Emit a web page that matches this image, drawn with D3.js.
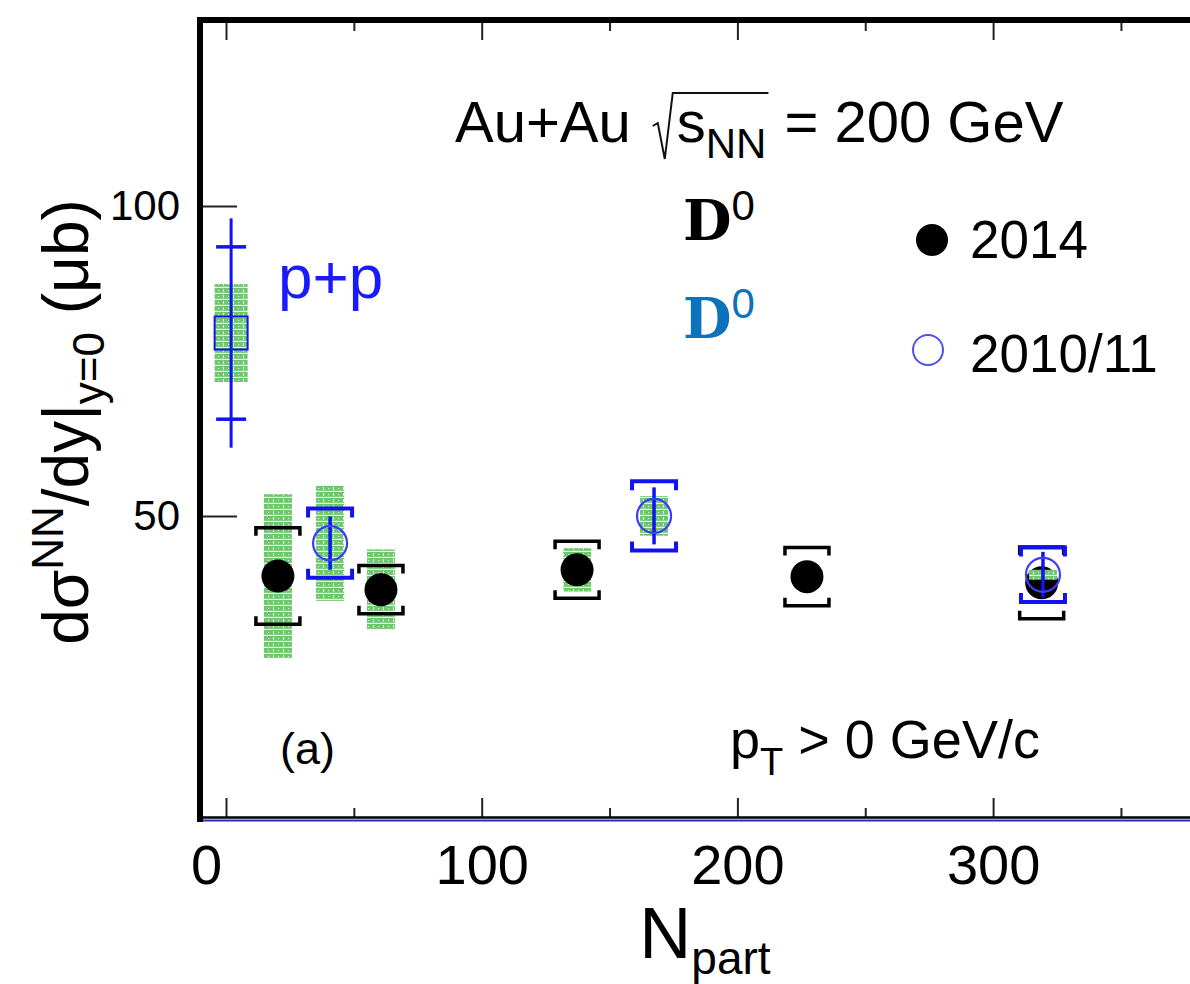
<!DOCTYPE html>
<html>
<head>
<meta charset="utf-8">
<script src="https://cdn.jsdelivr.net/npm/d3@7"></script>
<style>
  html, body { margin: 0; padding: 0; background: #fff; }
  svg { display: block; font-family: "Liberation Sans", Arial, Helvetica, sans-serif; }
</style>
</head>
<body>
<svg id="chart" width="1190" height="984"></svg>
<script>
// Au+Au 200 GeV, D0 from the 2014 run
const npart2014 = [20.3, 60.6, 137.3, 227.2, 319.0];
const value2014 = [40.3, 38.1, 41.3, 40.2, 39.2];
const sys2014   = [7.8, 3.9, 4.6, 4.7, 5.8];
const band2014  = [13.2, 6.5, 3.5, 0, 0];

// Au+Au 200 GeV, D0 from the 2010/11 runs
const npart1011 = [40.7, 167.4, 319.5];
const value1011 = [45.6, 50.0, 40.5];
const stat1011  = [4.3, 4.6, 3.7];
const sys1011   = [5.6, 5.6, 4.4];
const band1011  = [9.3, 3.2, 0.8];

// p+p reference
const npartPP = [2];
const valuePP = [79.5];
const errPP   = [18.5];
const capPP   = [13.9];
const bandPP  = [7.9];

const xMajorTicks = [0, 100, 200, 300];
const xMinorTicks = [50, 150, 250, 350];
const yMajorTicks = [50, 100];

const svg = d3.select("#chart");
const x = d3.scaleLinear().domain([0, 400]).range([226, 1248.8]);
const y = d3.scaleLinear().domain([1.1, 130]).range([819, 20]);

const BLUE = "#1212f0";

// hatched fill used for the green uncertainty bands
const defs = svg.append("defs");
const pat = defs.append("pattern").attr("id", "hatch")
  .attr("width", 10).attr("height", 6).attr("patternUnits", "userSpaceOnUse");
pat.append("rect").attr("width", 10).attr("height", 6).attr("fill", "#6cc86c");
pat.append("rect").attr("x", 0).attr("y", 4.8).attr("width", 10).attr("height", 1.2).attr("fill", "#e6f6e6");
pat.append("rect").attr("x", 3).attr("y", 1).attr("width", 1).attr("height", 3).attr("fill", "#e6f6e6");
pat.append("rect").attr("x", 8).attr("y", 2).attr("width", 1.2).attr("height", 1).attr("fill", "#e6f6e6");

// ---- axes ----
const axisFont = g => g.selectAll("text").attr("fill", "#000").attr("font-family", "Liberation Sans, Arial, sans-serif");

const gxMaj = svg.append("g").attr("transform", "translate(0,818)")
  .call(d3.axisBottom(x).tickValues(xMajorTicks).tickSize(-20).tickPadding(26).tickFormat(d3.format("d")));
const gxMin = svg.append("g").attr("transform", "translate(0,818)")
  .call(d3.axisBottom(x).tickValues(xMinorTicks).tickSize(-10).tickFormat(""));
const gtMaj = svg.append("g").attr("transform", "translate(0,22)")
  .call(d3.axisTop(x).tickValues(xMajorTicks).tickSize(-18).tickFormat(""));
const gtMin = svg.append("g").attr("transform", "translate(0,22)")
  .call(d3.axisTop(x).tickValues(xMinorTicks).tickSize(-9).tickFormat(""));
const gy = svg.append("g").attr("transform", "translate(203,0)")
  .call(d3.axisLeft(y).tickValues(yMajorTicks).tickSize(-34).tickPadding(23).tickFormat(d3.format("d")));

[gxMaj, gxMin, gtMaj, gtMin, gy].forEach(g => {
  g.select(".domain").remove();
  g.selectAll(".tick line").attr("stroke", "#222").attr("stroke-width", 2);
  axisFont(g);
});
gxMaj.selectAll("text").attr("font-size", 56);
// the "0" label sits left of its tick, clear of the thick frame
gxMaj.selectAll(".tick").filter(d => d === 0).select("text").attr("dx", -20);
gy.selectAll("text").attr("font-size", 42);

// frame
svg.append("line").attr("x1", 200).attr("x2", 200).attr("y1", 17).attr("y2", 822)
  .attr("stroke", "#000").attr("stroke-width", 6);
svg.append("line").attr("x1", 197).attr("x2", 1190).attr("y1", 20).attr("y2", 20)
  .attr("stroke", "#000").attr("stroke-width", 6);
svg.append("line").attr("x1", 197).attr("x2", 1190).attr("y1", 817.5).attr("y2", 817.5)
  .attr("stroke", "#000").attr("stroke-width", 2.5);
svg.append("line").attr("x1", 203).attr("x2", 1190).attr("y1", 820.5).attr("y2", 820.5)
  .attr("stroke", "#2a2ac0").attr("stroke-width", 2);

// ---- helpers ----
function bands(n, v, b, half) {
  const d = n.map((nn, i) => ({ n: nn, v: v[i], b: b[i] })).filter(p => p.b > 0);
  svg.append("g").selectAll("rect").data(d).join("rect")
    .attr("x", p => x(p.n) - half).attr("width", 2 * half)
    .attr("y", p => y(p.v + p.b)).attr("height", p => y(p.v - p.b) - y(p.v + p.b))
    .attr("fill", "url(#hatch)");
}
function brackets(n, v, s, color, width, half, leg) {
  const d = n.map((nn, i) => ({ n: nn, v: v[i], s: s[i] }));
  const g = svg.append("g").attr("fill", "none").attr("stroke", color).attr("stroke-width", width);
  g.selectAll("path.top").data(d).join("path").attr("class", "top")
    .attr("d", p => { const cx = x(p.n), t = y(p.v + p.s);
      return `M${cx - half},${t + leg}V${t}H${cx + half}V${t + leg}`; });
  g.selectAll("path.bot").data(d).join("path").attr("class", "bot")
    .attr("d", p => { const cx = x(p.n), b = y(p.v - p.s);
      return `M${cx - half},${b - leg}V${b}H${cx + half}V${b - leg}`; });
}

// ---- 2014 ----
bands(npart2014, value2014, band2014, 14);
brackets(npart2014, value2014, sys2014, "#000", 3.5, 22, 8);
svg.append("g").selectAll("circle").data(npart2014).join("circle")
  .attr("cx", d => x(d)).attr("cy", (d, i) => y(value2014[i])).attr("r", 16.5).attr("fill", "#000");

// ---- 2010/11 ----
bands(npart1011, value1011, band1011, 14);
brackets(npart1011, value1011, sys1011, BLUE, 4, 22, 9);
svg.append("g").selectAll("line").data(npart1011).join("line")
  .attr("x1", d => x(d)).attr("x2", d => x(d))
  .attr("y1", (d, i) => y(value1011[i] + stat1011[i])).attr("y2", (d, i) => y(value1011[i] - stat1011[i]))
  .attr("stroke", BLUE).attr("stroke-width", 3.5);
svg.append("g").selectAll("circle").data(npart1011).join("circle")
  .attr("cx", d => x(d)).attr("cy", (d, i) => y(value1011[i])).attr("r", 17)
  .attr("fill", "none").attr("stroke", "#3c3cff").attr("stroke-width", 2.2);

// ---- p+p ----
bands(npartPP, valuePP, bandPP, 16.5);
const gpp = svg.append("g").attr("stroke", BLUE).attr("fill", "none");
npartPP.forEach((n, i) => {
  const cx = x(n);
  gpp.append("line").attr("x1", cx).attr("x2", cx)
    .attr("y1", y(valuePP[i] + errPP[i])).attr("y2", y(valuePP[i] - errPP[i])).attr("stroke-width", 3);
  [capPP[i], -capPP[i]].forEach(c => gpp.append("line")
    .attr("x1", cx - 15).attr("x2", cx + 15).attr("y1", y(valuePP[i] + c)).attr("y2", y(valuePP[i] + c))
    .attr("stroke-width", 3.5));
  gpp.append("rect").attr("x", cx - 16.5).attr("y", y(valuePP[i]) - 16.5)
    .attr("width", 33).attr("height", 33).attr("stroke-width", 2);
});

// ---- text ----
// title: Au+Au sqrt(s_NN) = 200 GeV
const tFont = 58, tY = 142;
const t1 = svg.append("text").attr("x", 455).attr("y", tY).attr("font-size", tFont).text("Au+Au");
let cx = 455 + t1.node().getComputedTextLength() + 22;
const sTxt = svg.append("text").attr("x", cx + 24).attr("y", tY).attr("font-size", tFont);
sTxt.append("tspan").text("s");
sTxt.append("tspan").attr("font-size", 42).attr("dy", 16).text("NN");
const sEnd = cx + 24 + sTxt.node().getComputedTextLength();
svg.append("path")
  .attr("d", `M${cx},${tY - 16}L${cx + 5},${tY - 19}L${cx + 12},${tY + 17}L${cx + 20},${tY - 49}H${sEnd + 2}`)
  .attr("fill", "none").attr("stroke", "#111").attr("stroke-width", 2);
svg.append("text").attr("x", sEnd + 18).attr("y", tY).attr("font-size", tFont).text("= 200 GeV");

// particle labels
function dzero(yBase, color) {
  const t = svg.append("text").attr("x", 683).attr("y", yBase).attr("fill", color);
  t.append("tspan").attr("font-family", "DejaVu Serif, Liberation Serif, serif").attr("font-weight", "bold")
    .attr("font-size", 56).text("D");
  t.append("tspan").attr("font-size", 42).attr("dy", -20).text("0");
}
dzero(240, "#000");
dzero(338, "#0b72bb");

// legend
svg.append("circle").attr("cx", 932).attr("cy", 240).attr("r", 16).attr("fill", "#000");
svg.append("text").attr("x", 970).attr("y", 258).attr("font-size", 53).text("2014");
svg.append("circle").attr("cx", 928).attr("cy", 350).attr("r", 15)
  .attr("fill", "none").attr("stroke", "#5050ee").attr("stroke-width", 2);
svg.append("text").attr("x", 970).attr("y", 372).attr("font-size", 53).text("2010/11");

svg.append("text").attr("x", 278).attr("y", 298).attr("font-size", 62).attr("fill", "#1a1aff").text("p+p");
svg.append("text").attr("x", 280).attr("y", 764).attr("font-size", 45).text("(a)");

const pt = svg.append("text").attr("x", 730).attr("y", 758).attr("font-size", 54);
pt.append("tspan").text("p");
pt.append("tspan").attr("font-size", 38).attr("dy", 17).text("T");
pt.append("tspan").attr("dy", -17).text(" > 0 GeV/c");

// axis titles
const xt = svg.append("text").attr("x", 705).attr("y", 958).attr("text-anchor", "middle").attr("font-size", 72);
xt.append("tspan").text("N");
xt.append("tspan").attr("font-size", 46).attr("dy", 16).text("part");

const yt = svg.append("text").attr("transform", "translate(88,422) rotate(-90)")
  .attr("text-anchor", "middle").attr("font-size", 64);
yt.append("tspan").text("dσ");
yt.append("tspan").attr("font-size", 44).attr("dy", -25).text("NN");
yt.append("tspan").attr("dy", 25).text("/dy|");
yt.append("tspan").attr("font-size", 44).attr("dy", 16).text("y=0");
yt.append("tspan").attr("dy", -16).text(" (μb)");
</script>
</body>
</html>
